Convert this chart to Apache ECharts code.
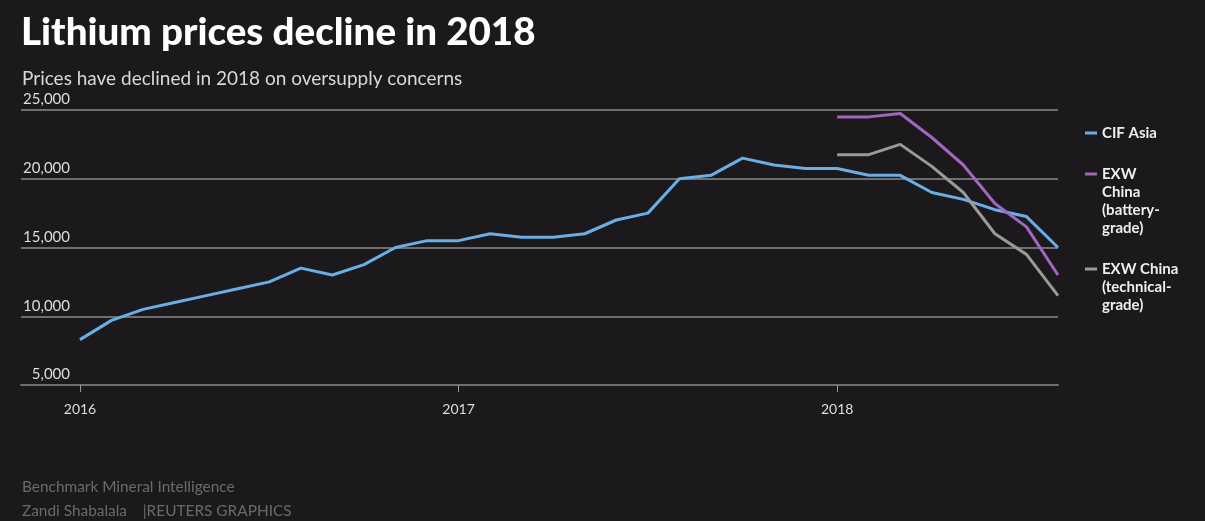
<!DOCTYPE html>
<html>
<head>
<meta charset="utf-8">
<script src="https://cdn.jsdelivr.net/npm/echarts@6/dist/echarts.min.js"></script>
<style>
html,body{margin:0;padding:0;background:#1b191c;}
#chart{width:1205px;height:521px;}
</style>
</head>
<body>
<div id="chart"></div>
<script>
// Monthly dates, Jan 2016 - Aug 2018
const months = [
  '2016-01','2016-02','2016-03','2016-04','2016-05','2016-06',
  '2016-07','2016-08','2016-09','2016-10','2016-11','2016-12',
  '2017-01','2017-02','2017-03','2017-04','2017-05','2017-06',
  '2017-07','2017-08','2017-09','2017-10','2017-11','2017-12',
  '2018-01','2018-02','2018-03','2018-04','2018-05','2018-06',
  '2018-07','2018-08'
];
const cifAsia = [
  8300, 9700, 10500, 11000, 11500, 12000, 12500, 13500, 13000, 13750, 15000, 15500,
  15500, 16000, 15750, 15750, 16000, 17000, 17500, 20000, 20250, 21500, 21000, 20750,
  20750, 20250, 20250, 19000, 18500, 17750, 17250, 15000
];
// EXW China series start in Jan 2018
const exwMonths = ['2018-01','2018-02','2018-03','2018-04','2018-05','2018-06','2018-07','2018-08'];
const exwBattery = [24500, 24500, 24750, 23000, 21000, 18200, 16500, 13000];
const exwTechnical = [21750, 21750, 22500, 20900, 19000, 16000, 14500, 11500];
const yearTicks = ['2016-01','2017-01','2018-01'];
const yearLabels = ['2016','2017','2018'];
const seriesNames = ['CIF Asia', 'EXW China (battery-grade)', 'EXW China (technical-grade)'];
const legendLabels = ['CIF Asia', 'EXW\nChina\n(battery-\ngrade)', 'EXW China\n(technical-\ngrade)'];

// month index relative to Jan 2016
const mi = s => { const p = s.split('-'); return (+p[0] - 2016) * 12 + (+p[1] - 1); };
const pair = (xs, ys) => xs.map((x, i) => [mi(x), ys[i]]);

const colors = ['#6aaee6', '#a066c0', '#9a9a9a'];
const FONT = 'Lato, "Open Sans", sans-serif';
const LH = 18;

// legend labels: pad with blank lines above so the marker lines up with the first text line
const nLines = t => t.split('\n').length;
const padLabel = t => ' \n'.repeat(nLines(t) - 1) + t;
const firstLineTops = [124, 165, 260];
const tickVals = yearTicks.map(mi);

const chart = echarts.init(document.getElementById('chart'), null, {renderer: 'canvas'});
chart.setOption({
  backgroundColor: '#1b191c',
  animation: false,
  color: colors,
  title: [
    {
      text: 'Lithium prices decline in 2018',
      left: 16, top: 8,
      textStyle: {color: '#ffffff', fontFamily: FONT, fontWeight: 900, fontSize: 38.5}
    },
    {
      text: 'Prices have declined in 2018 on oversupply concerns',
      left: 17, top: 64,
      textStyle: {color: '#d8d8d8', fontFamily: FONT, fontWeight: 'normal', fontSize: 19}
    },
    {
      text: 'Benchmark Mineral Intelligence\nZandi Shabalala    |REUTERS GRAPHICS',
      left: 17, top: 470,
      textStyle: {color: '#6a6a6a', fontFamily: FONT, fontWeight: 'normal', fontSize: 15.4, lineHeight: 24}
    }
  ],
  legend: seriesNames.map((name, i) => ({
    data: [name],
    left: 1085, top: firstLineTops[i] - (nLines(legendLabels[i]) - 1) * LH,
    orient: 'vertical',
    padding: 0,
    icon: 'rect', itemWidth: 12, itemHeight: 3,
    selectedMode: false,
    formatter: () => padLabel(legendLabels[i]),
    textStyle: {color: '#eeeeee', fontFamily: FONT, fontWeight: 'bold', fontSize: 15, lineHeight: LH}
  })),
  grid: {left: 21, right: 147, top: 110, bottom: 136, containLabel: false},
  xAxis: {
    type: 'value',
    min: -1.87,
    max: 31,
    axisLine: {show: true, onZero: false, lineStyle: {color: '#6e6e6e', width: 2}},
    axisTick: {show: true, length: 7, lineStyle: {color: '#9a9a9a', width: 1}, customValues: tickVals},
    axisLabel: {
      customValues: tickVals,
      color: '#dddddd', fontFamily: FONT, fontSize: 14, margin: 17,
      formatter: v => yearLabels[tickVals.indexOf(v)] || ''
    },
    splitLine: {show: false}
  },
  yAxis: {
    type: 'value',
    min: 5000, max: 25000, interval: 5000,
    axisLine: {show: false},
    axisTick: {show: false},
    axisLabel: {
      inside: true, align: 'right', margin: 49, verticalAlign: 'bottom',
      color: '#dddddd', fontFamily: FONT, fontSize: 15, padding: [0, 0, 3, 0],
      formatter: v => v.toLocaleString('en-US')
    },
    splitLine: {show: true, lineStyle: {color: '#6e6e6e', width: 2}}
  },
  series: [
    {name: seriesNames[0], type: 'line', showSymbol: false, data: pair(months, cifAsia), lineStyle: {width: 3, color: colors[0]}, itemStyle: {color: colors[0]}},
    {name: seriesNames[1], type: 'line', showSymbol: false, data: pair(exwMonths, exwBattery), lineStyle: {width: 3, color: colors[1]}, itemStyle: {color: colors[1]}},
    {name: seriesNames[2], type: 'line', showSymbol: false, data: pair(exwMonths, exwTechnical), lineStyle: {width: 3, color: colors[2]}, itemStyle: {color: colors[2]}}
  ]
});
</script>
</body>
</html>
